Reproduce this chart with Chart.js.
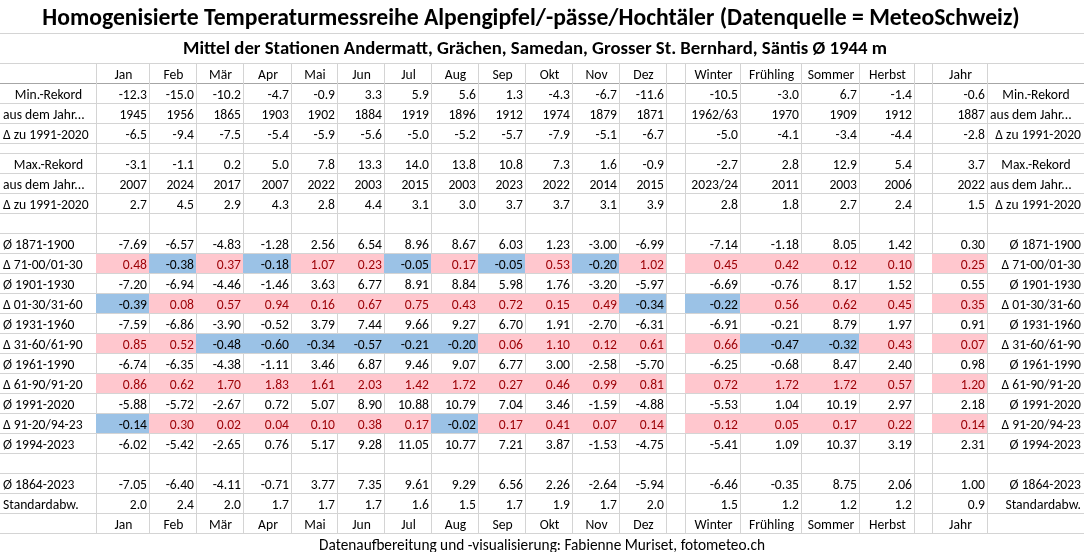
<!DOCTYPE html>
<html>
<head>
<meta charset="utf-8">
<script src="https://cdn.jsdelivr.net/npm/chart.js@4.4.1/dist/chart.umd.min.js"></script>
<style>
html, body { margin: 0; padding: 0; background: #fff; }
canvas { display: block; }
</style>
</head>
<body>
<canvas id="tabelle" width="1084" height="552"></canvas>
<script>
var title = 'Homogenisierte Temperaturmessreihe Alpengipfel/-pässe/Hochtäler (Datenquelle = MeteoSchweiz)';
var subtitle = 'Mittel der Stationen Andermatt, Grächen, Samedan, Grosser St. Bernhard, Säntis Ø 1944 m';
var footer = 'Datenaufbereitung und -visualisierung: Fabienne Muriset, fotometeo.ch';

var months = ['Jan', 'Feb', 'Mär', 'Apr', 'Mai', 'Jun', 'Jul', 'Aug', 'Sep', 'Okt', 'Nov', 'Dez'];
var seasons = ['Winter', 'Frühling', 'Sommer', 'Herbst'];
var yearLabel = 'Jahr';

// order: 12 months, 4 seasons, year
var minRecord = [-12.3, -15.0, -10.2, -4.7, -0.9, 3.3, 5.9, 5.6, 1.3, -4.3, -6.7, -11.6, -10.5, -3.0, 6.7, -1.4, -0.6];
var minYear   = [1945, 1956, 1865, 1903, 1902, 1884, 1919, 1896, 1912, 1974, 1879, 1871, '1962/63', 1970, 1909, 1912, 1887];
var minDelta  = [-6.5, -9.4, -7.5, -5.4, -5.9, -5.6, -5.0, -5.2, -5.7, -7.9, -5.1, -6.7, -5.0, -4.1, -3.4, -4.4, -2.8];
var maxRecord = [-3.1, -1.1, 0.2, 5.0, 7.8, 13.3, 14.0, 13.8, 10.8, 7.3, 1.6, -0.9, -2.7, 2.8, 12.9, 5.4, 3.7];
var maxYear   = [2007, 2024, 2017, 2007, 2022, 2003, 2015, 2003, 2023, 2022, 2014, 2015, '2023/24', 2011, 2003, 2006, 2022];
var maxDelta  = [2.7, 4.5, 2.9, 4.3, 2.8, 4.4, 3.1, 3.0, 3.7, 3.7, 3.1, 3.9, 2.8, 1.8, 2.7, 2.4, 1.5];

var mean1871 = [-7.69, -6.57, -4.83, -1.28, 2.56, 6.54, 8.96, 8.67, 6.03, 1.23, -3.00, -6.99, -7.14, -1.18, 8.05, 1.42, 0.30];
var diff7100 = [0.48, -0.38, 0.37, -0.18, 1.07, 0.23, -0.05, 0.17, -0.05, 0.53, -0.20, 1.02, 0.45, 0.42, 0.12, 0.10, 0.25];
var mean1901 = [-7.20, -6.94, -4.46, -1.46, 3.63, 6.77, 8.91, 8.84, 5.98, 1.76, -3.20, -5.97, -6.69, -0.76, 8.17, 1.52, 0.55];
var diff0130 = [-0.39, 0.08, 0.57, 0.94, 0.16, 0.67, 0.75, 0.43, 0.72, 0.15, 0.49, -0.34, -0.22, 0.56, 0.62, 0.45, 0.35];
var mean1931 = [-7.59, -6.86, -3.90, -0.52, 3.79, 7.44, 9.66, 9.27, 6.70, 1.91, -2.70, -6.31, -6.91, -0.21, 8.79, 1.97, 0.91];
var diff3160 = [0.85, 0.52, -0.48, -0.60, -0.34, -0.57, -0.21, -0.20, 0.06, 1.10, 0.12, 0.61, 0.66, -0.47, -0.32, 0.43, 0.07];
var mean1961 = [-6.74, -6.35, -4.38, -1.11, 3.46, 6.87, 9.46, 9.07, 6.77, 3.00, -2.58, -5.70, -6.25, -0.68, 8.47, 2.40, 0.98];
var diff6190 = [0.86, 0.62, 1.70, 1.83, 1.61, 2.03, 1.42, 1.72, 0.27, 0.46, 0.99, 0.81, 0.72, 1.72, 1.72, 0.57, 1.20];
var mean1991 = [-5.88, -5.72, -2.67, 0.72, 5.07, 8.90, 10.88, 10.79, 7.04, 3.46, -1.59, -4.88, -5.53, 1.04, 10.19, 2.97, 2.18];
var diff9120 = [-0.14, 0.30, 0.02, 0.04, 0.10, 0.38, 0.17, -0.02, 0.17, 0.41, 0.07, 0.14, 0.12, 0.05, 0.17, 0.22, 0.14];
var mean1994 = [-6.02, -5.42, -2.65, 0.76, 5.17, 9.28, 11.05, 10.77, 7.21, 3.87, -1.53, -4.75, -5.41, 1.09, 10.37, 3.19, 2.31];
var mean1864 = [-7.05, -6.40, -4.11, -0.71, 3.77, 7.35, 9.61, 9.29, 6.56, 2.26, -2.64, -5.94, -6.46, -0.35, 8.75, 2.06, 1.00];
var stdDev   = [2.0, 2.4, 2.0, 1.7, 1.7, 1.7, 1.6, 1.5, 1.7, 1.9, 1.7, 2.0, 1.5, 1.2, 1.2, 1.2, 0.9];

// layout (not data): column edges and row heights in canvas units
var colEdges = [0, 97, 150, 197, 244, 292, 338, 385, 432, 479, 526, 573, 620, 667, 686, 741, 802, 860, 915, 933, 988, 1084];
var valueCols = [1, 2, 3, 4, 5, 6, 7, 8, 9, 10, 11, 12, 14, 15, 16, 17, 19];
var tableTop = 63;
var rowH = 20;

var rows = [
  { header: true },
  { label: 'Min.-Rekord', values: minRecord, dec: 1, center: true },
  { label: 'aus dem Jahr...', values: minYear, dec: 0, rightLeft: true },
  { label: 'Δ zu 1991-2020', values: minDelta, dec: 1 },
  { spacer: 10 },
  { label: 'Max.-Rekord', values: maxRecord, dec: 1, center: true },
  { label: 'aus dem Jahr...', values: maxYear, dec: 0, rightLeft: true },
  { label: 'Δ zu 1991-2020', values: maxDelta, dec: 1 },
  { spacer: 20 },
  { label: 'Ø 1871-1900', values: mean1871, dec: 2 },
  { label: 'Δ 71-00/01-30', values: diff7100, dec: 2, colored: true },
  { label: 'Ø 1901-1930', values: mean1901, dec: 2 },
  { label: 'Δ 01-30/31-60', values: diff0130, dec: 2, colored: true },
  { label: 'Ø 1931-1960', values: mean1931, dec: 2 },
  { label: 'Δ 31-60/61-90', values: diff3160, dec: 2, colored: true },
  { label: 'Ø 1961-1990', values: mean1961, dec: 2 },
  { label: 'Δ 61-90/91-20', values: diff6190, dec: 2, colored: true },
  { label: 'Ø 1991-2020', values: mean1991, dec: 2 },
  { label: 'Δ 91-20/94-23', values: diff9120, dec: 2, colored: true },
  { label: 'Ø 1994-2023', values: mean1994, dec: 2 },
  { spacer: 20 },
  { label: 'Ø 1864-2023', values: mean1864, dec: 2 },
  { label: 'Standardabw.', values: stdDev, dec: 1 },
  { header: true }
];

var family = 'Carlito, Lato, "Noto Sans", sans-serif';
var warmFill = '#ffc7ce', warmText = '#9c0006';
var coldFill = '#9bc2e6';
var gridColor = '#d4d4d4';

function fitFont(ctx, text, weight, width) {
  ctx.font = weight + ' 100px ' + family;
  return 100 * width / ctx.measureText(text).width;
}

var tablePlugin = {
  id: 'tabelle',
  afterDraw: function (chart) {
    var ctx = chart.ctx;
    var sx = chart.scales.x, sy = chart.scales.y;
    function px(v) { return sx.getPixelForValue(v); }
    function py(v) { return sy.getPixelForValue(v); }

    ctx.save();
    var cellSize = fitFont(ctx, '2007', 'normal', 27.6);
    var cellFont = 'normal ' + cellSize.toFixed(2) + 'px ' + family;

    // row positions
    var y0 = tableTop, lines = [32.5, tableTop], layout = [];
    rows.forEach(function (r) {
      var h = r.spacer ? r.spacer : rowH;
      layout.push({ row: r, top: y0, bottom: y0 + h });
      y0 += h;
      lines.push(y0);
    });
    var tableBottom = y0;

    // grid
    ctx.lineWidth = 1;
    lines.forEach(function (v, i) {
      ctx.strokeStyle = i === 2 ? '#a6a6a6' : gridColor;
      var yy = Math.round(py(v)) + 0.5;
      ctx.beginPath(); ctx.moveTo(px(0), yy); ctx.lineTo(px(1084), yy); ctx.stroke();
    });
    ctx.strokeStyle = gridColor;
    for (var c = 1; c < colEdges.length - 1; c++) {
      var xx = Math.round(px(colEdges[c])) - 0.5;
      ctx.beginPath(); ctx.moveTo(xx, py(tableTop)); ctx.lineTo(xx, py(tableBottom)); ctx.stroke();
    }

    ctx.font = cellFont;
    ctx.textBaseline = 'middle';
    layout.forEach(function (L) {
      var r = L.row;
      if (r.spacer) return;
      var yc = (py(L.top) + py(L.bottom)) / 2 + 2.5;
      if (r.header) {
        ctx.fillStyle = '#000';
        ctx.textAlign = 'center';
        var heads = months.concat(seasons, [yearLabel]);
        heads.forEach(function (t, i) {
          var c = valueCols[i];
          ctx.fillText(t, (px(colEdges[c]) + px(colEdges[c + 1])) / 2, yc);
        });
        return;
      }
      // labels
      ctx.fillStyle = '#000';
      if (r.center) {
        ctx.textAlign = 'center';
        ctx.fillText(r.label, (px(colEdges[0]) + px(colEdges[1])) / 2, yc);
        ctx.fillText(r.label, (px(colEdges[20]) + px(colEdges[21])) / 2, yc);
      } else {
        ctx.textAlign = 'left';
        ctx.fillText(r.label, px(colEdges[0]) + 3, yc);
        if (r.rightLeft) {
          ctx.fillText(r.label, px(colEdges[20]) + 2, yc);
        } else {
          ctx.textAlign = 'right';
          ctx.fillText(r.label, px(colEdges[21]) - 3, yc);
        }
      }
      // values
      r.values.forEach(function (v, i) {
        var c = valueCols[i];
        var xl = px(colEdges[c]), xr = px(colEdges[c + 1]);
        var txtColor = '#000';
        if (r.colored) {
          ctx.fillStyle = v > 0 ? warmFill : coldFill;
          ctx.fillRect(xl - 1, py(L.top) + 1, xr - xl, py(L.bottom) - py(L.top) - 1);
          if (v > 0) txtColor = warmText;
        }
        var s = typeof v === 'number' ? v.toFixed(r.dec) : v;
        ctx.fillStyle = txtColor;
        ctx.textAlign = 'right';
        ctx.fillText(s, xr - 3, yc);
      });
    });

    // titles and footer
    ctx.fillStyle = '#000';
    ctx.textAlign = 'center';
    var ts = fitFont(ctx, title, 'bold', 978);
    ctx.font = 'bold ' + ts.toFixed(2) + 'px ' + family;
    ctx.fillText(title, px(531), py(19));
    var ss = fitFont(ctx, subtitle, 'bold', 704);
    ctx.font = 'bold ' + ss.toFixed(2) + 'px ' + family;
    ctx.fillText(subtitle, px(535), py(49.5));
    var fs = fitFont(ctx, footer, 'normal', 446);
    ctx.font = 'normal ' + fs.toFixed(2) + 'px ' + family;
    ctx.fillText(footer, px(542), py(546.5));
    ctx.restore();
  }
};

new Chart(document.getElementById('tabelle'), {
  type: 'scatter',
  data: { datasets: [] },
  options: {
    responsive: false,
    animation: false,
    layout: { padding: 0 },
    plugins: { legend: { display: false }, tooltip: { enabled: false } },
    scales: {
      x: { type: 'linear', min: 0, max: 1084, display: false },
      y: { type: 'linear', min: 0, max: 552, reverse: true, display: false }
    }
  },
  plugins: [tablePlugin]
});
</script>
</body>
</html>
